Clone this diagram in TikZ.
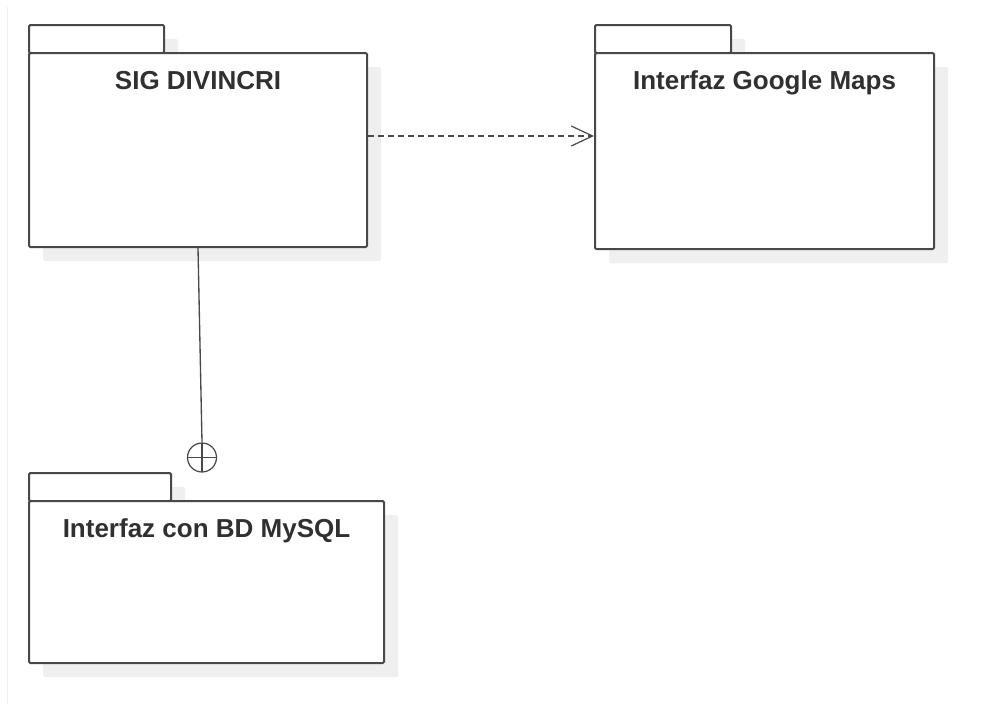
\documentclass[tikz,border=0pt]{standalone}
\usepackage{fontspec}
\setmainfont{Liberation Sans}
\usepackage{tikz}
\usetikzlibrary{arrows.meta,shadows,calc}
\definecolor{linegray}{HTML}{484848}
\definecolor{textgray}{HTML}{303030}
\definecolor{shadegray}{HTML}{EFEFEF}
\definecolor{edgeblue}{HTML}{EBEEF8}
\tikzset{
  pkgpart/.style={draw=linegray, line width=1.5pt, fill=white, rounded corners=1pt,
    anchor=north west, inner sep=0pt,
    drop shadow={shadow xshift=10.5pt, shadow yshift=-10.5pt, fill=shadegray, opacity=1}},
  pkgtitle/.style={anchor=base, text=textgray, font=\fontsize{19.5}{22}\selectfont\bfseries, inner sep=0pt},
  dep/.style={draw=linegray, line width=1.4pt, dash pattern=on 4.5pt off 3pt,
    -{Straight Barb[length=16pt, width=15pt, line width=0.9pt]}},
  nestline/.style={draw=linegray, line width=1pt},
  nestcirc/.style={circle, draw=linegray, line width=0.9pt, minimum size=21.75pt, inner sep=0pt,
    path picture={\draw[linegray, line width=0.9pt]
      (path picture bounding box.north) -- (path picture bounding box.south)
      (path picture bounding box.west) -- (path picture bounding box.east);}}
}
\begin{document}
\begin{tikzpicture}[x=0.75pt, y=-0.75pt]
\useasboundingbox[fill=white] (0,0) rectangle (984,704);
\draw[edgeblue, line width=0.75pt] (7,7) -- (7,704);
% SIG DIVINCRI
\node[pkgpart, minimum width=101.25pt, minimum height=21pt] (sigtab) at (28,24) {};
\node[pkgpart, minimum width=253.5pt, minimum height=145.5pt] (sig) at (28,52) {};
\node[pkgtitle] (sigtitle) at ([yshift=-27.75pt]sig.north) {SIG DIVINCRI};
% Interfaz Google Maps
\node[pkgpart, minimum width=102pt, minimum height=21pt] (gmapstab) at (594,24) {};
\node[pkgpart, minimum width=254.25pt, minimum height=147pt] (gmaps) at (594,52) {};
\node[pkgtitle] (gmapstitle) at ([yshift=-27.75pt]gmaps.north) {Interfaz Google Maps};
% Interfaz con BD MySQL
\node[pkgpart, minimum width=106.5pt, minimum height=21pt] (dbtab) at (28,472) {};
\node[pkgpart, minimum width=266.25pt, minimum height=121.5pt] (db) at (28,500) {};
\node[pkgtitle] (dbtitle) at ([yshift=-27.75pt]db.north) {Interfaz con BD MySQL};
% connectors
\draw[dep] ([yshift=10.5pt]sig.east) -- ([yshift=10.5pt]sig.east -| gmaps.west);
\node[nestcirc] (nest) at (202,457.5) {};
\draw[nestline] (sig.south) -- (nest.north);
\end{tikzpicture}
\end{document}
